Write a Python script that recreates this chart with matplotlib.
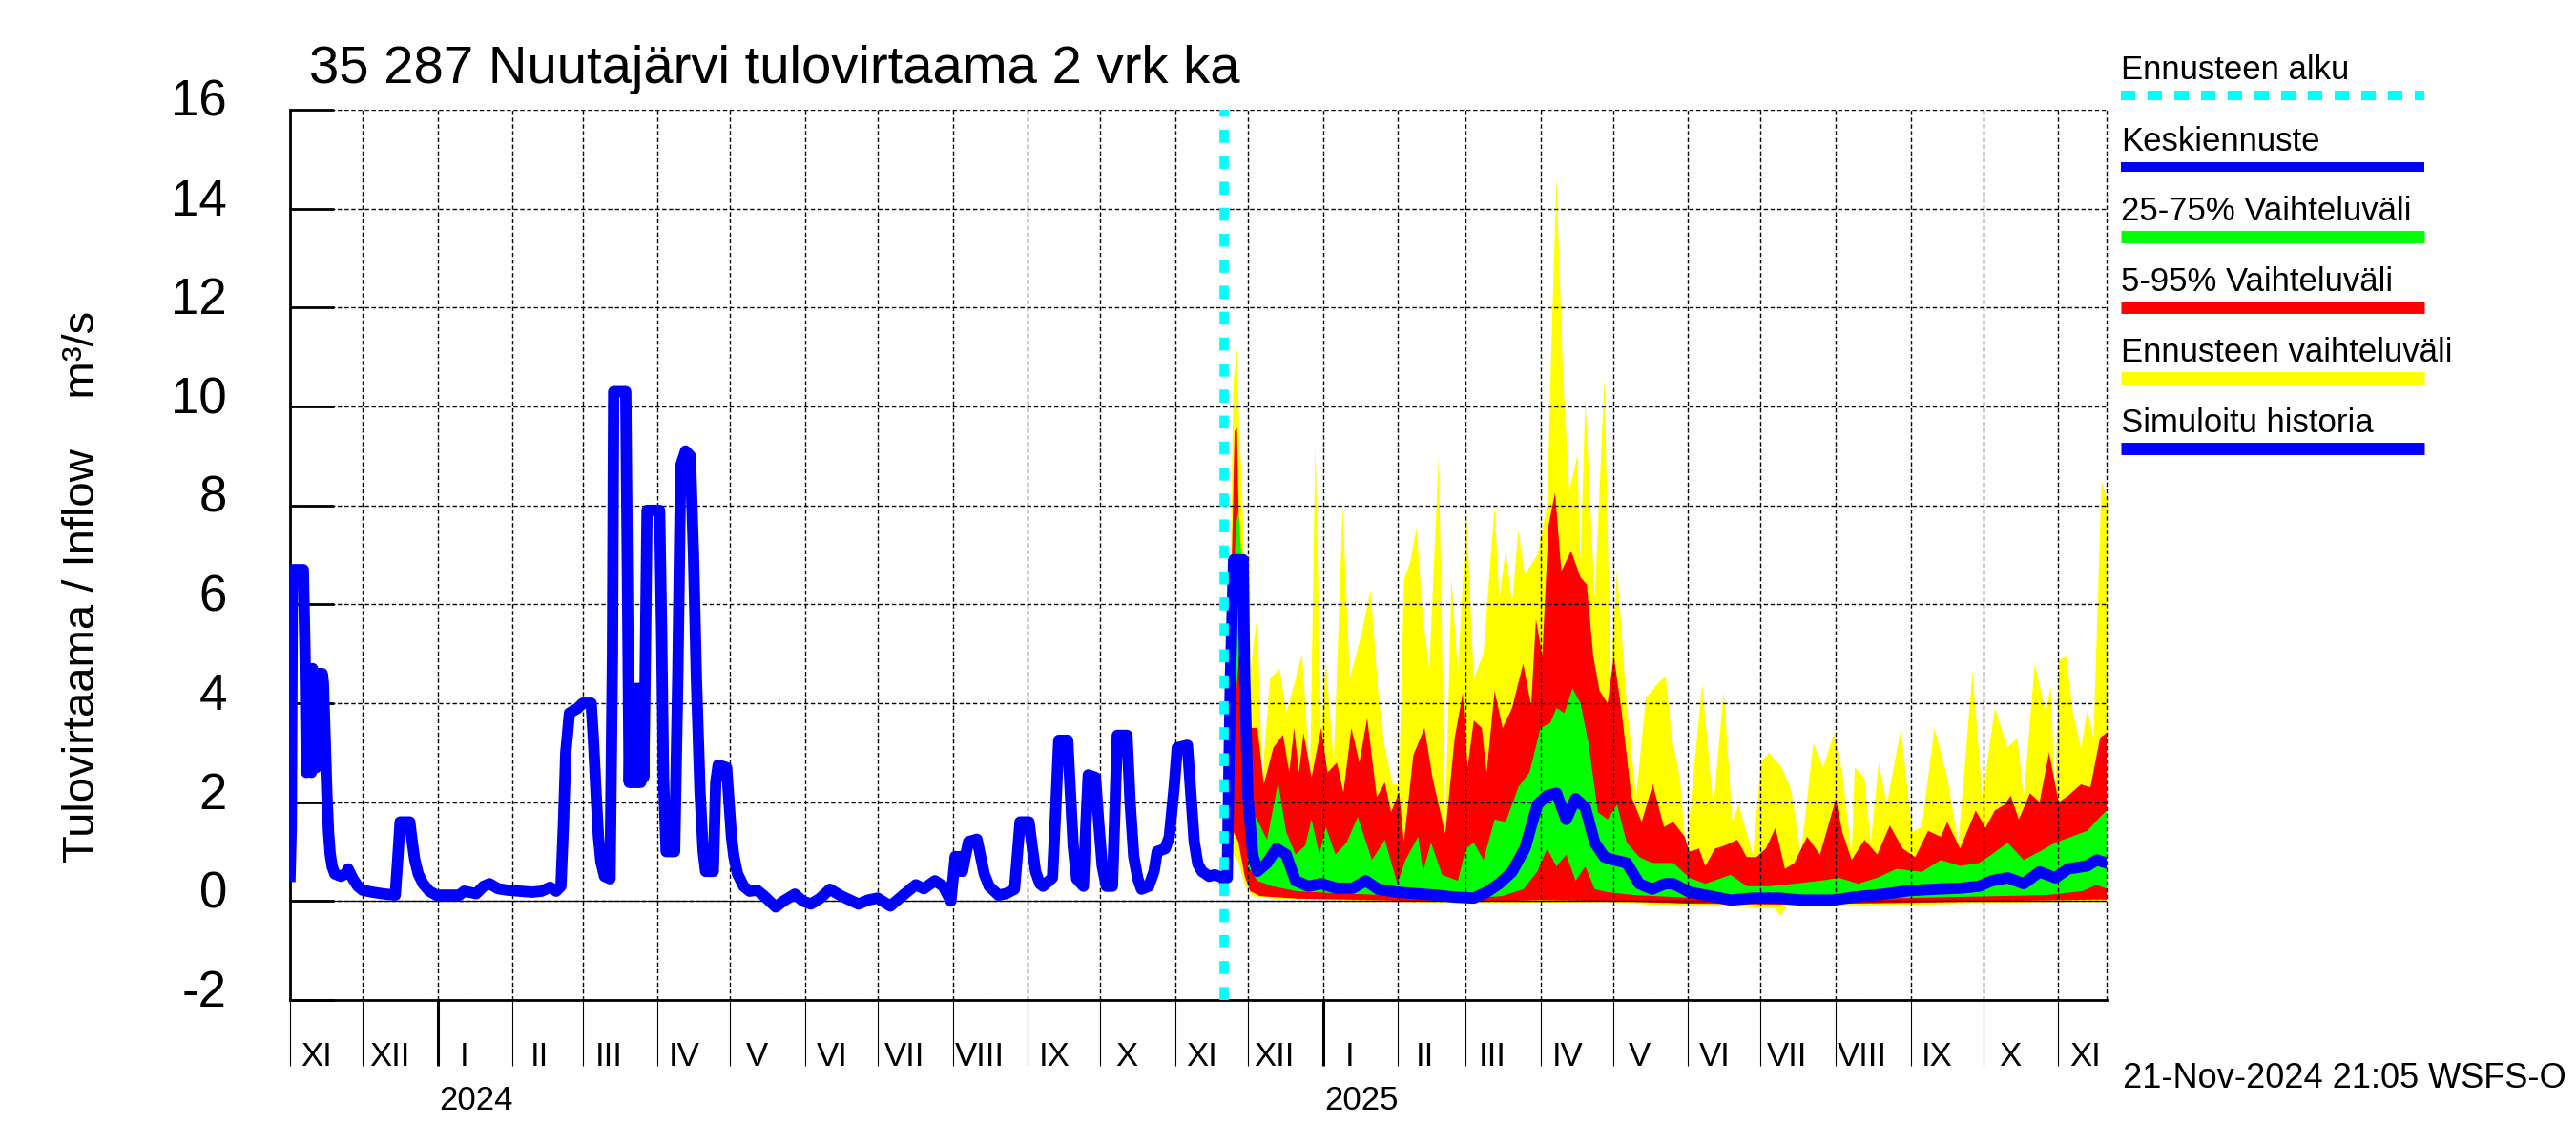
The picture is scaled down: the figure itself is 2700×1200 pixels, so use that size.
import matplotlib
matplotlib.use('Agg')
import matplotlib.pyplot as plt
import matplotlib.dates as mdates
import matplotlib.transforms as mtransforms
from matplotlib.lines import Line2D
import numpy as np
import pandas as pd

FONT = ['Liberation Sans', 'DejaVu Sans']
plt.rcParams['font.family'] = FONT
plt.rcParams['axes.unicode_minus'] = False
plt.rcParams['path.simplify'] = False

HIST_START = '2023-11-01'
FC_START = '2024-11-21'
X_END = '2025-11-21'

ROMAN = ['I', 'II', 'III', 'IV', 'V', 'VI', 'VII', 'VIII', 'IX', 'X', 'XI', 'XII']
Y_TICKS = [-2, 0, 2, 4, 6, 8, 10, 12, 14, 16]

# simuloitu historia: päivää alusta (1.11.2023), m3/s
hist_day = [0, 0.5, 1.0, 5.5, 6.2, 6.8, 7.3, 7.8, 8.3, 8.8,
            9.3, 9.8, 10.3, 10.8, 11.3, 11.8, 12.3, 12.8, 13.3, 13.8,
            14.5, 15.2, 15.9, 16.6, 17.4, 18.5, 21, 23, 24, 26,
            28, 30, 34, 38, 43.5, 44.6, 45.5, 49.5, 50.5, 51.5,
            53, 55, 57.6, 60.5, 70, 72, 77, 80, 82.5, 86,
            90, 100, 104, 107.5, 110, 112, 113, 114, 115.5, 119,
            121, 124.5, 125.5, 126.5, 127.5, 128.5, 130, 132.3, 133.3, 133.8,
            138.8, 139.5, 140.2, 140.8, 141.4, 142.0, 142.6, 143.2, 143.8, 144.4,
            145.0, 145.6, 146.2, 146.8, 147.6, 152.8, 153.6, 154.4, 155.5, 159,
            160.3, 161.5, 163.5, 165.5, 166.8, 168, 169.5, 170.8, 171.8, 175,
            176, 177, 180.5, 181.5, 182.5, 183.5, 185, 187.5, 190, 193,
            195.6, 200.8, 204, 208.7, 212, 215.3, 219, 223.2, 228, 235,
            239, 242.9, 248.2, 253, 258.7, 262, 266.6, 270, 273.2, 274.2,
            275, 276, 277, 278, 279, 280.5, 284, 285.5, 287, 289,
            292.9, 296, 299.5, 300.8, 301.8, 305.5, 306.8, 308.2, 310, 311.3,
            315.2, 316.5, 317.8, 321.5, 322.6, 323.8, 325.2, 328, 329, 330,
            333, 334.3, 335.8, 337.5, 340, 341, 342, 346, 347.3, 348.8,
            350.5, 352, 355, 357.2, 358.5, 361.8, 363.5, 365.5, 366.8, 371,
            372.5, 373.8, 375.3, 377, 380, 382.2, 386]
hist_q = [0.5, 1.5, 6.7, 6.7, 5.0, 2.6, 4.7, 2.7, 4.6, 2.6,
          4.7, 2.7, 4.6, 2.7, 4.6, 2.8, 4.6, 2.9, 4.6, 4.4,
          3.3, 2.2, 1.4, 0.95, 0.7, 0.55, 0.5, 0.55, 0.65, 0.45,
          0.3, 0.22, 0.18, 0.15, 0.12, 0.9, 1.6, 1.6, 1.2, 0.85,
          0.55, 0.35, 0.2, 0.12, 0.12, 0.2, 0.15, 0.3, 0.35, 0.25,
          0.22, 0.18, 0.2, 0.28, 0.2, 0.3, 1.5, 3.0, 3.8, 3.9,
          4.0, 4.0, 3.2, 2.2, 1.3, 0.8, 0.5, 0.45, 5.0, 10.3,
          10.3, 6.5, 2.4, 4.2, 2.4, 4.3, 2.4, 4.3, 2.4, 4.3,
          2.4, 4.2, 2.5, 4.5, 7.9, 7.9, 5.5, 2.5, 1.0, 1.0,
          4.5, 8.8, 9.1, 9.0, 7.0, 4.5, 2.2, 1.0, 0.6, 0.6,
          2.4, 2.75, 2.7, 2.0, 1.3, 0.9, 0.55, 0.3, 0.2, 0.22,
          0.12, -0.12, 0.0, 0.14, 0.0, -0.06, 0.05, 0.24, 0.1, -0.06,
          0.02, 0.06, -0.1, 0.1, 0.33, 0.25, 0.41, 0.3, 0.0, 0.5,
          0.9, 0.6, 0.9, 0.6, 0.85, 1.2, 1.25, 0.9, 0.55, 0.3,
          0.12, 0.15, 0.24, 1.0, 1.6, 1.6, 1.1, 0.6, 0.35, 0.3,
          0.47, 1.8, 3.25, 3.25, 2.2, 1.1, 0.45, 0.3, 1.5, 2.55,
          2.5, 1.6, 0.7, 0.3, 0.3, 1.8, 3.35, 3.35, 2.0, 0.9,
          0.45, 0.24, 0.3, 0.6, 1.0, 1.06, 1.3, 2.3, 3.1, 3.15,
          2.1, 1.2, 0.75, 0.6, 0.5, 0.53, 0.47]

# ennuste: päivää ennusteen alusta (21.11.2024)
max_day = [0, 1, 2.5, 4, 5.5, 6.5, 7.4, 8.5, 9.3, 10.7,
           13.9, 15.9, 19.2, 23.2, 25.8, 28.4, 32.4, 35.7, 37.9, 40.3,
           42.2, 45.5, 49.2, 52.1, 55.4, 57.4, 60.7, 63.9, 66.6, 69.9,
           72.5, 74.5, 77.1, 79.7, 82.4, 85, 88.9, 91.6, 94.2, 96.8,
           100.4, 103.4, 107.4, 112, 113.9, 116.6, 119.2, 121.8, 124.5, 129.7,
           133.7, 135.7, 137.6, 140.3, 142.9, 146.2, 147.5, 149.5, 153.4, 157.4,
           160, 162.6, 166.6, 170.5, 174.5, 179.4, 182.7, 185.3, 188.6, 191.2,
           193.8, 197.8, 202.4, 206.7, 210.3, 212.9, 218.8, 222.1, 225.4, 230.7,
           234.6, 238.6, 243.8, 247.8, 252.4, 255.7, 259.6, 260.9, 264.9, 267.5,
           270.8, 274.1, 280, 284.6, 288.6, 293.8, 299.1, 303.7, 309.6, 313.6,
           318.8, 324.1, 328.1, 330.7, 335.3, 339.9, 341.9, 343.8, 345.2, 348.4,
           351.1, 354.4, 357, 359.6, 362.9, 365]
max_q = [0.45, 0.6, 6.0, 10.5, 11.2, 9.5, 8.6, 7.0, 5.1, 4.5,
         5.8, 2.5, 4.5, 4.7, 3.8, 4.25, 5.0, 2.5, 9.3, 3.3,
         4.9, 2.8, 8.0, 4.5, 5.1, 5.5, 6.3, 4.2, 3.1, 2.36,
         2.36, 6.5, 6.85, 7.55, 5.7, 4.7, 9.0, 1.5, 6.55, 4.6,
         7.8, 4.5, 5.0, 8.0, 6.1, 7.1, 6.0, 7.5, 6.6, 7.0,
         8.0, 11.6, 14.6, 10.6, 8.3, 9.0, 6.85, 10.15, 6.1, 10.6,
         4.5, 6.7, 4.0, 2.1, 4.1, 4.4, 4.55, 3.3, 2.5, 0.94,
         2.36, 4.4, 1.9, 4.25, 1.6, 1.95, 0.94, 2.8, 3.0, 2.7,
         2.25, 0.94, 3.2, 2.7, 3.4, 2.6, 0.94, 2.7, 2.5, 1.18,
         2.8, 1.95, 3.5, 1.4, 1.5, 3.5, 2.5, 1.18, 4.65, 2.1,
         3.9, 3.1, 3.3, 2.1, 4.8, 3.8, 4.35, 2.1, 4.85, 4.95,
         3.8, 3.1, 3.85, 3.3, 8.5, 8.15]

p95_day = [0, 2.5, 4.5, 5.5, 6.5, 7.4, 8.5, 11.3, 13.9, 16.6,
           20.5, 24.5, 27.1, 29.1, 31.1, 33, 36.3, 40.3, 42.9, 46.8,
           49.5, 52.8, 56.1, 59.3, 63.3, 66.6, 69.2, 72.5, 74.5, 78.4,
           83, 86.3, 91.6, 95.5, 98.8, 100.8, 103.4, 106.7, 108.7, 112,
           115.3, 119.2, 123.8, 127.1, 129.1, 131.7, 134.3, 137, 139.6, 143.6,
           147.5, 150.1, 152.8, 155.4, 158.7, 161.3, 164.6, 168.6, 172.8, 177.4,
           182, 185.9, 190.6, 192.5, 196.5, 199.1, 203.1, 207, 212.3, 216.2,
           220.2, 224.1, 228.1, 232, 235.9, 241.2, 246.5, 253.1, 255.7, 259.6,
           264.9, 270.2, 275.4, 280.7, 285.9, 291.2, 296.5, 299.1, 304.4, 310.9,
           314.9, 318.8, 322.8, 325.4, 328.7, 333.3, 337.3, 341.2, 345.2, 349.1,
           354.4, 358.3, 362.3, 365]
p95_q = [0.45, 5.0, 9.5, 9.56, 7.0, 4.0, 3.6, 3.5, 3.5, 2.36,
         3.1, 3.36, 2.6, 3.5, 2.6, 3.4, 2.5, 3.5, 2.6, 2.8,
         2.2, 3.5, 2.8, 3.7, 2.1, 2.4, 1.8, 2.2, 1.2, 2.95,
         3.5, 2.5, 1.36, 3.3, 4.2, 2.7, 3.65, 3.5, 2.6, 4.25,
         3.5, 3.9, 4.8, 3.95, 5.7, 4.95, 7.6, 8.26, 6.67, 7.08,
         6.55, 6.4, 4.95, 4.25, 4.0, 4.95, 3.8, 2.1, 1.6, 2.36,
         1.5, 1.6, 1.3, 1.0, 1.06, 0.7, 1.06, 1.12, 1.24, 0.89,
         0.89, 1.06, 1.48, 0.65, 0.77, 1.3, 0.94, 2.07, 1.4, 0.83,
         1.24, 0.94, 1.53, 1.06, 0.89, 1.42, 1.3, 1.6, 1.06, 1.83,
         1.48, 1.83, 1.95, 2.13, 1.65, 2.18, 2.0, 3.0, 2.0, 2.13,
         2.36, 2.3, 3.3, 3.4]

p75_day = [0, 3, 5, 6.05, 7.4, 8.7, 12, 15.3, 17.9, 22.5,
           25.8, 29.7, 33.7, 36.3, 39.6, 42.2, 46.2, 50.8, 55.4, 61.3,
           66.6, 71.8, 75.1, 80.4, 82.4, 85.7, 90.3, 96.8, 100.1, 103.4,
           107.4, 112, 116.6, 121.8, 126.4, 131, 135, 137.6, 140.9, 144.2,
           147.5, 150.8, 154.7, 158.7, 162.6, 166.6, 171.8, 177.1, 185.9, 192.5,
           199.1, 209.6, 216.2, 225.4, 235.9, 246.5, 254.4, 262.3, 270.2, 278.1,
           288.6, 296.5, 304.4, 312.3, 317.5, 324.1, 330.7, 337.3, 343.8, 350.4,
           357, 362.3, 365]
p75_q = [0.45, 5.0, 7.6, 7.9, 6.9, 3.0, 1.8, 1.5, 1.24, 2.4,
         1.4, 0.94, 1.12, 1.65, 0.94, 1.5, 0.94, 1.18, 1.7, 0.83,
         1.24, 0.35, 0.83, 1.3, 0.6, 1.18, 0.53, 0.41, 1.06, 1.18,
         0.83, 1.65, 1.6, 2.3, 2.6, 3.5, 3.6, 3.9, 3.8, 4.3,
         4.0, 3.2, 1.8, 1.65, 1.95, 1.18, 0.89, 0.77, 0.77, 0.47,
         0.35, 0.53, 0.3, 0.3, 0.35, 0.41, 0.47, 0.35, 0.47, 0.65,
         0.59, 0.83, 0.71, 0.77, 0.94, 1.18, 0.83, 1.0, 1.18, 1.3,
         1.42, 1.7, 1.83]

med_day = [0, 1.45, 2.76, 4.08, 8.03, 8.68, 10, 12, 13.9, 17.9,
           21.8, 25.8, 29.7, 35, 40.3, 46.8, 53.4, 58.7, 63.9, 71.8,
           79.7, 87.6, 95.5, 103.4, 108.7, 113.9, 119.2, 124.5, 129.7, 133.7,
           137.6, 141.6, 145.5, 149.5, 153.4, 157.4, 161.3, 166.6, 171.8, 177.1,
           182.4, 185.9, 192.5, 199.1, 209.6, 218.8, 229.4, 238.6, 251.7, 262.3,
           272.8, 283.3, 293.8, 304.4, 312.3, 317.5, 324.1, 330.7, 337.3, 343.8,
           349.1, 357, 360.9, 365]
med_q = [0.45, 0.47, 4.5, 6.9, 6.9, 4.5, 2.1, 0.94, 0.6, 0.77,
         1.06, 0.94, 0.41, 0.3, 0.35, 0.26, 0.26, 0.41, 0.24, 0.18,
         0.15, 0.12, 0.08, 0.06, 0.18, 0.35, 0.59, 1.06, 1.95, 2.13,
         2.18, 1.65, 2.07, 1.89, 1.18, 0.89, 0.83, 0.77, 0.35, 0.24,
         0.35, 0.35, 0.18, 0.12, 0.02, 0.06, 0.06, 0.02, 0.02, 0.09,
         0.14, 0.21, 0.24, 0.26, 0.3, 0.41, 0.47, 0.35, 0.59, 0.47,
         0.65, 0.71, 0.83, 0.77]

p25_day = [0, 3, 6.5, 8.7, 10, 13.9, 20, 30, 50, 80,
           100, 115, 124, 129.7, 133.7, 137.6, 141.6, 145.5, 149.5, 153.4,
           158.7, 170, 200, 250, 300, 340, 355, 360.9, 365]
p25_q = [0.45, 3.0, 5.0, 3.3, 0.7, 0.41, 0.3, 0.2, 0.15, 0.1,
         0.05, 0.1, 0.24, 0.6, 1.06, 0.7, 0.94, 0.41, 0.7, 0.24,
         0.18, 0.12, 0.05, 0.03, 0.08, 0.12, 0.2, 0.33, 0.25]

p05_day = [0, 3, 6, 8.7, 11, 15, 30, 60, 100, 130,
           160, 190, 230, 280, 320, 360, 365]
p05_q = [0.45, 1.5, 1.2, 0.5, 0.2, 0.1, 0.05, 0.02, -0.02, 0.02,
         0.0, -0.05, -0.07, -0.04, 0.0, 0.03, 0.03]

min_day = [0, 3, 6, 9, 12, 20, 60, 100, 130, 160,
           180, 200, 215, 228, 230, 233, 260, 300, 330, 365]
min_q = [0.45, 1.0, 0.8, 0.3, 0.1, 0.05, 0.0, -0.05, -0.03, -0.02,
         -0.08, -0.1, -0.12, -0.15, -0.3, -0.1, -0.1, -0.06, -0.03, 0.0]

legend_labels = ['Ennusteen alku', 'Keskiennuste', '25-75% Vaihteluväli',
                 '5-95% Vaihteluväli', 'Ennusteen vaihteluväli', 'Simuloitu historia']

CYAN = '#00ffff'
BLUE = '#0000ff'
GREEN = '#00ff00'
RED = '#ff0000'
YELLOW = '#ffff00'
GRID_LS = (0, (3.2, 1.9))


def to_num(start, days):
    return mdates.date2num(pd.Timestamp(start) + pd.to_timedelta(np.asarray(days, float), unit='D'))


def band(ax, ud, uq, ld, lq, color):
    x = np.concatenate([to_num(FC_START, ud), to_num(FC_START, ld)[::-1]])
    y = np.concatenate([np.asarray(uq), np.asarray(lq)[::-1]])
    ax.fill(x, y, color=color, lw=0, zorder=1)


fig = plt.figure(figsize=(27, 12), dpi=100)
ax = fig.add_axes([304 / 2700, 152 / 1200, 1904 / 2700, 933 / 1200])

band(ax, max_day, max_q, min_day, min_q, YELLOW)
band(ax, p95_day, p95_q, p05_day, p05_q, RED)
band(ax, p75_day, p75_q, p25_day, p25_q, GREEN)

ax.plot(to_num(HIST_START, hist_day), hist_q, color=BLUE, lw=8.5, zorder=3)
ax.plot(to_num(FC_START, med_day), med_q, color=BLUE, lw=8.5, zorder=3)

x0 = mdates.date2num(pd.Timestamp(HIST_START))
x1 = mdates.date2num(pd.Timestamp(X_END))
fc = mdates.date2num(pd.Timestamp(FC_START))
ax.set_xlim(x0, x1)
ax.set_ylim(-2, 16)

ax.axhline(0, color='black', lw=0.9, zorder=2)
ax.axvline(x1, color='black', lw=1.0, ls=GRID_LS, clip_on=False, zorder=2)
ax.axvline(fc, color=CYAN, lw=7, ls=(0, (1.4, 1.4)), zorder=4)

ax.set_axisbelow('line')
ax.xaxis.set_major_locator(mdates.MonthLocator(bymonth=1))
ax.xaxis.set_minor_locator(mdates.MonthLocator())
ax.tick_params(axis='x', which='both', direction='out', length=50,
               labelbottom=False, color='black')
ax.tick_params(axis='x', which='major', width=2.2)
ax.tick_params(axis='x', which='minor', width=0.8)
ax.grid(True, axis='x', which='both', color='black', lw=1.0, ls=GRID_LS)

ax.set_yticks(Y_TICKS)
ax.grid(True, axis='y', which='major', color='black', lw=1.0, ls=GRID_LS)
ax.tick_params(axis='y', direction='in', length=33, width=2, labelleft=False)

for side in ['top', 'right']:
    ax.spines[side].set_visible(False)
for side in ['left', 'bottom']:
    ax.spines[side].set_linewidth(2)

# y-akselin luvut hieman viivan yläpuolelle
ytrans = mtransforms.blended_transform_factory(ax.transAxes, ax.transData) + \
    mtransforms.ScaledTranslation(0, 0.07, fig.dpi_scale_trans)
for v in Y_TICKS:
    ax.text(-0.0347, v, str(v), transform=ytrans, ha='right', va='center',
            fontsize=38, clip_on=False)

# kuukausi- ja vuosinimet
trans = mtransforms.blended_transform_factory(ax.transData, ax.transAxes)
for m in pd.date_range(HIST_START, '2025-11-01', freq='MS'):
    xm = mdates.date2num(m + pd.Timedelta(days=11))
    ax.text(xm, -0.0638, ROMAN[m.month - 1], transform=trans, ha='center',
            va='center', fontsize=25, clip_on=False)
for yr in [2024, 2025]:
    xy = mdates.date2num(pd.Timestamp(f'{yr}-01-17'))
    ax.text(xy, -0.1131, str(yr), transform=trans, ha='center', va='center',
            fontsize=25, clip_on=False)

fig.text(324 / 2700, 1 - 87 / 1200, '35 287 Nuutajärvi tulovirtaama 2 vrk ka',
         fontsize=40.5, va='baseline', ha='left')
fig.text(87 / 2700, 1 - 615 / 1200, 'Tulovirtaama / Inflow    m³/s',
         rotation=90, fontsize=34, ha='center', va='center')
fig.text(2225 / 2700, 1 - 1140 / 1200, '21-Nov-2024 21:05 WSFS-O',
         fontsize=26, va='baseline', ha='left')

# selite
leg_colors = [CYAN, BLUE, GREEN, RED, YELLOW, BLUE]
leg_widths = [7.2, 7.2, 9.3, 9.3, 9.3, 9.3]
leg_y = [100, 175, 248, 322, 396, 470]
for i, (lab, col, lw, yy) in enumerate(zip(legend_labels, leg_colors, leg_widths, leg_y)):
    yf = 1 - yy / 1200
    ls = (0, (1.5, 1.3)) if i == 0 else '-'
    fig.add_artist(Line2D([2223 / 2700, 2541 / 2700], [yf, yf], transform=fig.transFigure,
                          color=col, lw=lw, ls=ls, solid_capstyle='butt', dash_capstyle='butt'))
    fig.text(2223 / 2700, 1 - (yy - 17) / 1200, lab, fontsize=25,
             va='baseline', ha='left')

fig.savefig('out.png', dpi=100)
